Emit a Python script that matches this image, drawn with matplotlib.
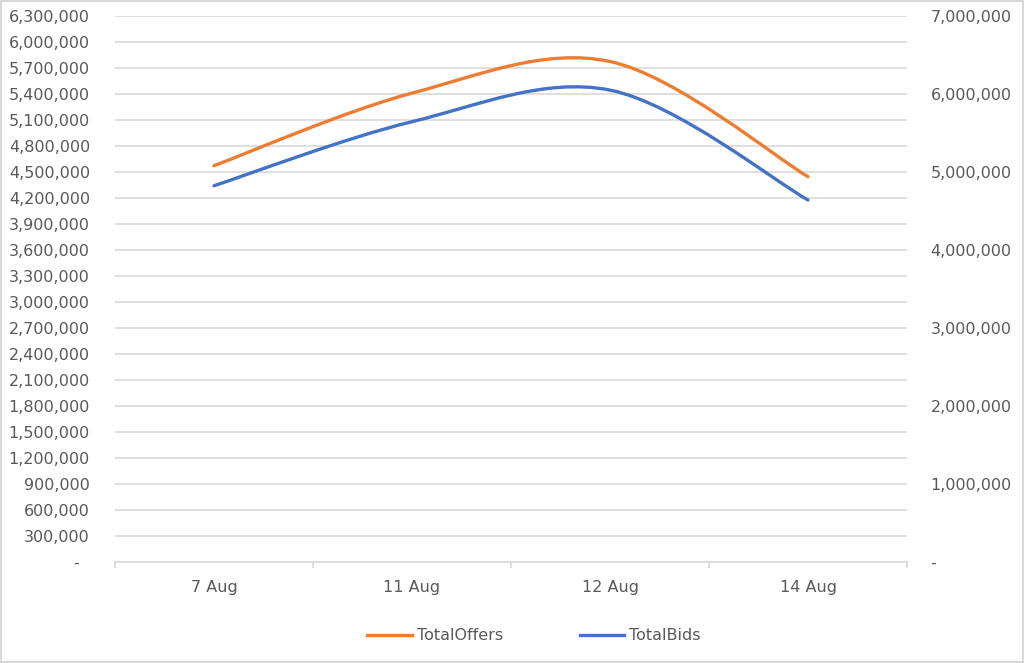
import numpy as np
import matplotlib
matplotlib.use("Agg")
import matplotlib.pyplot as plt
from matplotlib.path import Path
from matplotlib.patches import PathPatch, Rectangle
from matplotlib.lines import Line2D
from matplotlib.ticker import FuncFormatter, MultipleLocator, FixedLocator

# data
dates = ["7 Aug", "11 Aug", "12 Aug", "14 Aug"]
total_offers = [4573000, 5410000, 5775000, 4446000]   # left axis
total_bids = [4824000, 5645000, 6050000, 4641000]     # right axis

orange = "#ED7D31"
blue = "#4472C4"
grid_col = "#D9D9D9"
text_col = "#595959"

plt.rcParams["font.family"] = "DejaVu Sans"


# excel style smoothed line: cubic bezier through the points
def smooth_path(xs, ys):
    pts = np.column_stack([xs, ys]).astype(float)
    n = len(pts)
    verts = [pts[0]]
    codes = [Path.MOVETO]
    for i in range(n - 1):
        p0 = pts[max(i - 1, 0)]
        p1 = pts[i]
        p2 = pts[i + 1]
        p3 = pts[min(i + 2, n - 1)]
        c1 = p1 + (p2 - p0) / 6.0
        c2 = p2 - (p3 - p1) / 6.0
        verts += [c1, c2, p2]
        codes += [Path.CURVE4] * 3
    return Path(verts, codes)


def fmt_num(v, pos):
    if abs(v) < 1:
        return "-  "
    return f"{v:,.0f}"


def fmt_right(v, pos):
    if abs(v) < 1:
        return "-"
    return f"{v:,.0f}"


fig = plt.figure(figsize=(10.24, 6.63), dpi=100)
ax = fig.add_axes([115 / 1024, 1 - 562 / 663, 792 / 1024, 546 / 663])
ax2 = ax.twinx()

x = np.arange(len(dates))

ax.add_patch(PathPatch(smooth_path(x, total_offers), fill=False, edgecolor=orange,
                       lw=2.4, capstyle="round", joinstyle="round", zorder=3))
ax2.add_patch(PathPatch(smooth_path(x, total_bids), fill=False, edgecolor=blue,
                        lw=2.4, capstyle="round", joinstyle="round", zorder=3))

ax.set_xlim(-0.5, len(dates) - 0.5)
ax.set_ylim(0, 6300000)
ax2.set_ylim(0, 7000000)

ax.yaxis.set_major_locator(MultipleLocator(300000))
ax.yaxis.set_major_formatter(FuncFormatter(fmt_num))
ax2.yaxis.set_major_locator(MultipleLocator(1000000))
ax2.yaxis.set_major_formatter(FuncFormatter(fmt_right))

ax.set_xticks(x)
ax.set_xticklabels(dates)
ax.xaxis.set_minor_locator(FixedLocator(np.arange(-0.5, len(dates), 1.0)))

ax.grid(axis="y", color=grid_col, lw=1.2)
ax.set_axisbelow(True)

for a in (ax, ax2):
    for s in a.spines.values():
        s.set_visible(False)
ax.spines["bottom"].set_visible(True)
ax.spines["bottom"].set_color(grid_col)
ax.spines["bottom"].set_linewidth(1.2)

ax.tick_params(axis="y", length=0, pad=18, labelsize=11.5, labelcolor=text_col)
ax2.tick_params(axis="y", length=0, pad=17, labelsize=11.5, labelcolor=text_col)
ax.tick_params(axis="x", which="major", length=0, pad=13, labelsize=11.5, labelcolor=text_col)
ax.tick_params(axis="x", which="minor", length=4, width=1.2, color=grid_col)

handles = [Line2D([], [], color=orange, lw=2.4),
           Line2D([], [], color=blue, lw=2.4)]
fig.legend(handles, ["TotalOffers", "TotalBids"], loc="center",
           bbox_to_anchor=(534 / 1024, 1 - 636 / 663), ncol=2, frameon=False,
           fontsize=11.5, labelcolor=text_col, handlelength=2.8, handletextpad=0.3,
           columnspacing=4.8)

fig.add_artist(Rectangle((0.001, 0.0015), 0.998, 0.997, transform=fig.transFigure,
                         fill=False, edgecolor=grid_col, lw=1.5))

fig.savefig("out.png", dpi=100)
